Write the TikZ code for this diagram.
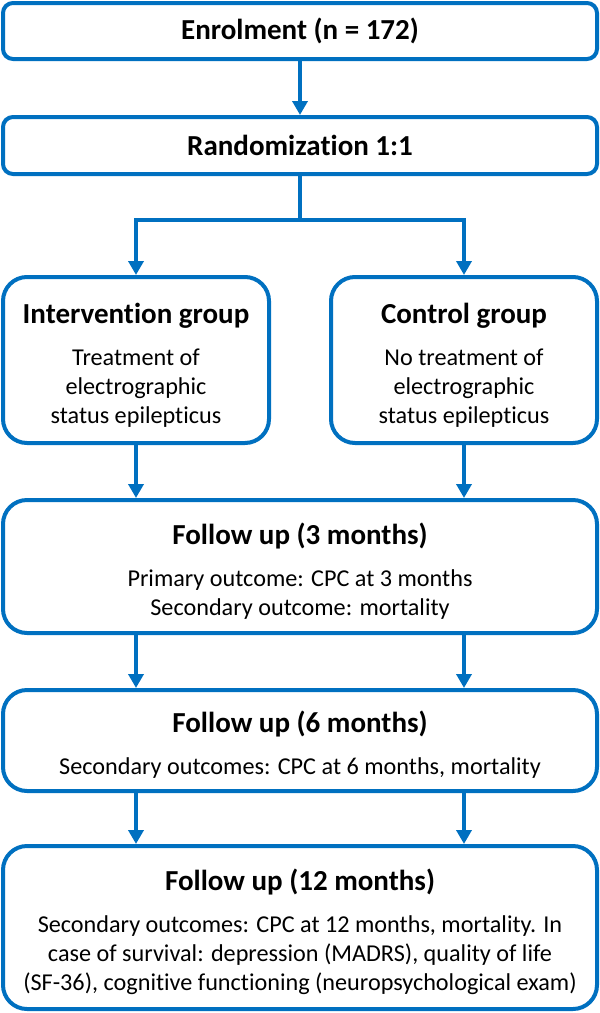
\documentclass[tikz,border=0pt]{standalone}
\usepackage{fontspec}
\setmainfont{Carlito}[Ligatures=NoCommon]
\usetikzlibrary{arrows.meta}
\definecolor{flowblue}{RGB}{0,112,192}
\newcommand\boxhead[1]{{\fontsize{29}{35}\selectfont\bfseries #1}}
\newcommand\headstrut{\rule{0pt}{30pt}}
\begin{document}
\begin{tikzpicture}[x=1pt,y=-1pt,
 box/.style={draw=flowblue,line width=4pt,rounded corners=24pt,align=center,inner sep=3pt,
  font=\fontsize{24.2}{29}\selectfont},
 smallbox/.style={box,rounded corners=10pt},
 arr/.style={draw=flowblue,line width=4pt,-{Triangle[width=15pt,length=14pt]}}]
 \useasboundingbox (0,0) rectangle (600,1013);
 \node[smallbox,minimum width=594pt,minimum height=56pt] (enrol) at (300,31) {\boxhead{Enrolment (n = 172)}};
 \node[smallbox,minimum width=594pt,minimum height=57pt] (rand) at (300,145.5) {\boxhead{Randomization 1:1}};
 \node[box,minimum width=266pt,minimum height=166pt] (int) at (136,360) {\headstrut\boxhead{Intervention group}\\[13pt]Treatment of\\electrographic\\status epilepticus};
 \node[box,minimum width=266pt,minimum height=166pt] (ctrl) at (464,360) {\headstrut\boxhead{Control group}\\[13pt]No treatment of\\electrographic\\status epilepticus};
 \node[box,minimum width=594pt,minimum height=133pt] (fu3) at (300,566.5) {\headstrut\boxhead{Follow up (3 months)}\\[13pt]Primary outcome: CPC at 3 months\\Secondary outcome: mortality};
 \node[box,minimum width=594pt,minimum height=101pt] (fu6) at (300,740.5) {\headstrut\boxhead{Follow up (6 months)}\\[13pt]Secondary outcomes: CPC at 6 months, mortality};
 \node[box,minimum width=594pt,minimum height=163pt] (fu12) at (300,927.5) {\headstrut\boxhead{Follow up (12 months)}\\[13pt]Secondary outcomes: CPC at 12 months, mortality. In\\case of survival: depression (MADRS), quality of life\\(SF-36), cognitive functioning (neuropsychological exam)};
 \coordinate (split) at (300,220);
 \draw[arr] (enrol) -- (rand);
 \draw[arr] (rand.south) -- (split) -| (int.north);
 \draw[arr] (split) -| (ctrl.north);
 \draw[arr] (int.south) -- (int.south |- fu3.north);
 \draw[arr] (ctrl.south) -- (ctrl.south |- fu3.north);
 \draw[arr] (fu3.south -| int) -- (fu6.north -| int);
 \draw[arr] (fu3.south -| ctrl) -- (fu6.north -| ctrl);
 \draw[arr] (fu6.south -| int) -- (fu12.north -| int);
 \draw[arr] (fu6.south -| ctrl) -- (fu12.north -| ctrl);
\end{tikzpicture}
\end{document}
